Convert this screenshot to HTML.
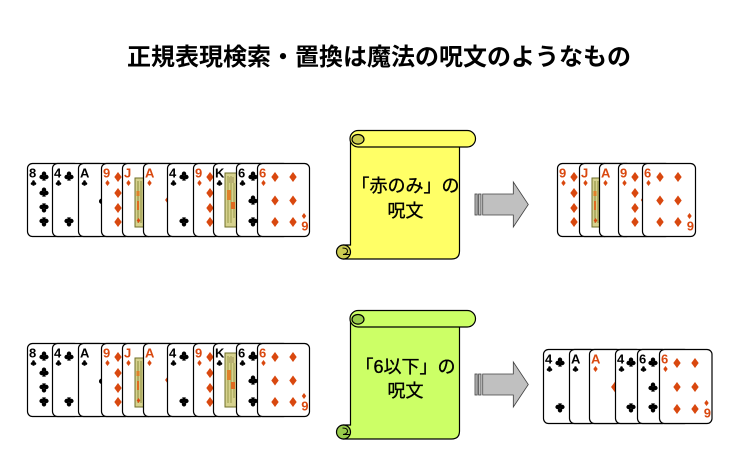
<!DOCTYPE html>
<html><head><meta charset="utf-8">
<style>
html,body{margin:0;padding:0;background:#fff;}
svg{display:block;}
.r{font-family:"Liberation Sans",sans-serif;font-weight:bold;font-size:13px;}
.t{font-family:"Liberation Sans","Noto Sans CJK JP",sans-serif;font-size:18px;fill:#000;stroke:#000;stroke-width:0.35px;}
.h{font-family:"Liberation Sans","Noto Sans CJK JP",sans-serif;font-size:24px;font-weight:bold;fill:#000;}
</style></head>
<body>
<svg width="750" height="466" viewBox="0 0 750 466" xmlns="http://www.w3.org/2000/svg">
<rect width="750" height="466" fill="#fff"/>
<text class="h" x="127" y="65">正規表現検索・置換は魔法の呪文のようなもの</text>

<!-- ============ LEFT ROW 1 ============ -->
<g transform="translate(0,163)">
 <g transform="translate(27,0)" fill="#000"><rect x=".5" y=".5" width="52" height="73" rx="5" fill="#fff" stroke="#000" stroke-width="1.2"/><text class="r" x="2" y="14.5">8</text>
  <path transform="translate(6.5,20) scale(.6)" d="M-2.2,-2.3a2.2,2.2 0 1 0 4.4,0a2.2,2.2 0 1 0 -4.4,0zM-4.6,1a2.2,2.2 0 1 0 4.4,0a2.2,2.2 0 1 0 -4.4,0zM0.2,1a2.2,2.2 0 1 0 4.4,0a2.2,2.2 0 1 0 -4.4,0zM-0.6,0L-1.8,4.6H1.8L0.6,0z"/>
  <path transform="translate(17,13)" d="M-2.2,-2.3a2.2,2.2 0 1 0 4.4,0a2.2,2.2 0 1 0 -4.4,0zM-4.6,1a2.2,2.2 0 1 0 4.4,0a2.2,2.2 0 1 0 -4.4,0zM0.2,1a2.2,2.2 0 1 0 4.4,0a2.2,2.2 0 1 0 -4.4,0zM-0.6,0L-1.8,4.6H1.8L0.6,0z"/>
  <path transform="translate(17,29)" d="M-2.2,-2.3a2.2,2.2 0 1 0 4.4,0a2.2,2.2 0 1 0 -4.4,0zM-4.6,1a2.2,2.2 0 1 0 4.4,0a2.2,2.2 0 1 0 -4.4,0zM0.2,1a2.2,2.2 0 1 0 4.4,0a2.2,2.2 0 1 0 -4.4,0zM-0.6,0L-1.8,4.6H1.8L0.6,0z"/>
  <path transform="translate(17,45) rotate(180)" d="M-2.2,-2.3a2.2,2.2 0 1 0 4.4,0a2.2,2.2 0 1 0 -4.4,0zM-4.6,1a2.2,2.2 0 1 0 4.4,0a2.2,2.2 0 1 0 -4.4,0zM0.2,1a2.2,2.2 0 1 0 4.4,0a2.2,2.2 0 1 0 -4.4,0zM-0.6,0L-1.8,4.6H1.8L0.6,0z"/>
  <path transform="translate(17,59) rotate(180)" d="M-2.2,-2.3a2.2,2.2 0 1 0 4.4,0a2.2,2.2 0 1 0 -4.4,0zM-4.6,1a2.2,2.2 0 1 0 4.4,0a2.2,2.2 0 1 0 -4.4,0zM0.2,1a2.2,2.2 0 1 0 4.4,0a2.2,2.2 0 1 0 -4.4,0zM-0.6,0L-1.8,4.6H1.8L0.6,0z"/>
 </g>
 <g transform="translate(52,0)" fill="#000"><rect x=".5" y=".5" width="52" height="73" rx="5" fill="#fff" stroke="#000" stroke-width="1.2"/><text class="r" x="2" y="14.5">4</text>
  <path transform="translate(6.5,20) scale(.6)" d="M-2.2,-2.3a2.2,2.2 0 1 0 4.4,0a2.2,2.2 0 1 0 -4.4,0zM-4.6,1a2.2,2.2 0 1 0 4.4,0a2.2,2.2 0 1 0 -4.4,0zM0.2,1a2.2,2.2 0 1 0 4.4,0a2.2,2.2 0 1 0 -4.4,0zM-0.6,0L-1.8,4.6H1.8L0.6,0z"/>
  <path transform="translate(17,13)" d="M-2.2,-2.3a2.2,2.2 0 1 0 4.4,0a2.2,2.2 0 1 0 -4.4,0zM-4.6,1a2.2,2.2 0 1 0 4.4,0a2.2,2.2 0 1 0 -4.4,0zM0.2,1a2.2,2.2 0 1 0 4.4,0a2.2,2.2 0 1 0 -4.4,0zM-0.6,0L-1.8,4.6H1.8L0.6,0z"/>
  <path transform="translate(17,59) rotate(180)" d="M-2.2,-2.3a2.2,2.2 0 1 0 4.4,0a2.2,2.2 0 1 0 -4.4,0zM-4.6,1a2.2,2.2 0 1 0 4.4,0a2.2,2.2 0 1 0 -4.4,0zM0.2,1a2.2,2.2 0 1 0 4.4,0a2.2,2.2 0 1 0 -4.4,0zM-0.6,0L-1.8,4.6H1.8L0.6,0z"/>
 </g>
 <g transform="translate(78,0)" fill="#000"><rect x=".5" y=".5" width="52" height="73" rx="5" fill="#fff" stroke="#000" stroke-width="1.2"/><text class="r" x="2" y="14.5">A</text>
  <path transform="translate(6.5,20) scale(.6)" d="M-2.2,-2.3a2.2,2.2 0 1 0 4.4,0a2.2,2.2 0 1 0 -4.4,0zM-4.6,1a2.2,2.2 0 1 0 4.4,0a2.2,2.2 0 1 0 -4.4,0zM0.2,1a2.2,2.2 0 1 0 4.4,0a2.2,2.2 0 1 0 -4.4,0zM-0.6,0L-1.8,4.6H1.8L0.6,0z"/>
  <path transform="translate(26.5,37) scale(1.2)" d="M-2.2,-2.3a2.2,2.2 0 1 0 4.4,0a2.2,2.2 0 1 0 -4.4,0zM-4.6,1a2.2,2.2 0 1 0 4.4,0a2.2,2.2 0 1 0 -4.4,0zM0.2,1a2.2,2.2 0 1 0 4.4,0a2.2,2.2 0 1 0 -4.4,0zM-0.6,0L-1.8,4.6H1.8L0.6,0z"/>
 </g>
 <g transform="translate(101,0)" fill="#d9480f"><rect x=".5" y=".5" width="52" height="73" rx="5" fill="#fff" stroke="#000" stroke-width="1.2"/><text class="r" x="2" y="14.5">9</text>
  <path transform="translate(6.5,20) scale(.6)" d="M0,-5L3.7,0L0,5L-3.7,0z"/>
  <path transform="translate(17,14)" d="M0,-5L3.7,0L0,5L-3.7,0z"/><path transform="translate(17,30)" d="M0,-5L3.7,0L0,5L-3.7,0z"/><path transform="translate(17,45)" d="M0,-5L3.7,0L0,5L-3.7,0z"/><path transform="translate(17,59)" d="M0,-5L3.7,0L0,5L-3.7,0z"/><path transform="translate(26.5,37)" d="M0,-5L3.7,0L0,5L-3.7,0z"/>
 </g>
 <g transform="translate(122,0)" fill="#d9480f"><rect x=".5" y=".5" width="52" height="73" rx="5" fill="#fff" stroke="#000" stroke-width="1.2"/><text class="r" x="2" y="14.5">J</text>
  <path transform="translate(6.5,20) scale(.6)" d="M0,-5L3.7,0L0,5L-3.7,0z"/>
  <rect x="13" y="15" width="28" height="49" fill="#d6d28e" stroke="#6f6f2a" stroke-width="1"/>
  <path d="M16,18V60M19,18V60" stroke="#8b8b3a" stroke-width="1" fill="none"/>
  <rect x="14.5" y="28" width="3" height="5" fill="#e0802a"/><rect x="15" y="38" width="2" height="9" fill="#e06a20"/>
  <path transform="translate(16.5,57.5) scale(.5)" d="M0,-5L3.7,0L0,5L-3.7,0z"/>
 </g>
 <g transform="translate(143,0)" fill="#d9480f"><rect x=".5" y=".5" width="52" height="73" rx="5" fill="#fff" stroke="#000" stroke-width="1.2"/><text class="r" x="2" y="14.5">A</text>
  <path transform="translate(6.5,20) scale(.6)" d="M0,-5L3.7,0L0,5L-3.7,0z"/>
  <path transform="translate(26.5,37) scale(1.2)" d="M0,-5L3.7,0L0,5L-3.7,0z"/>
 </g>
 <g transform="translate(167,0)" fill="#000"><rect x=".5" y=".5" width="52" height="73" rx="5" fill="#fff" stroke="#000" stroke-width="1.2"/><text class="r" x="2" y="14.5">4</text>
  <path transform="translate(6.5,20) scale(.6)" d="M-2.2,-2.3a2.2,2.2 0 1 0 4.4,0a2.2,2.2 0 1 0 -4.4,0zM-4.6,1a2.2,2.2 0 1 0 4.4,0a2.2,2.2 0 1 0 -4.4,0zM0.2,1a2.2,2.2 0 1 0 4.4,0a2.2,2.2 0 1 0 -4.4,0zM-0.6,0L-1.8,4.6H1.8L0.6,0z"/>
  <path transform="translate(17,13)" d="M-2.2,-2.3a2.2,2.2 0 1 0 4.4,0a2.2,2.2 0 1 0 -4.4,0zM-4.6,1a2.2,2.2 0 1 0 4.4,0a2.2,2.2 0 1 0 -4.4,0zM0.2,1a2.2,2.2 0 1 0 4.4,0a2.2,2.2 0 1 0 -4.4,0zM-0.6,0L-1.8,4.6H1.8L0.6,0z"/>
  <path transform="translate(17,59) rotate(180)" d="M-2.2,-2.3a2.2,2.2 0 1 0 4.4,0a2.2,2.2 0 1 0 -4.4,0zM-4.6,1a2.2,2.2 0 1 0 4.4,0a2.2,2.2 0 1 0 -4.4,0zM0.2,1a2.2,2.2 0 1 0 4.4,0a2.2,2.2 0 1 0 -4.4,0zM-0.6,0L-1.8,4.6H1.8L0.6,0z"/>
 </g>
 <g transform="translate(193,0)" fill="#d9480f"><rect x=".5" y=".5" width="52" height="73" rx="5" fill="#fff" stroke="#000" stroke-width="1.2"/><text class="r" x="2" y="14.5">9</text>
  <path transform="translate(6.5,20) scale(.6)" d="M0,-5L3.7,0L0,5L-3.7,0z"/>
  <path transform="translate(17,14)" d="M0,-5L3.7,0L0,5L-3.7,0z"/><path transform="translate(17,30)" d="M0,-5L3.7,0L0,5L-3.7,0z"/><path transform="translate(17,45)" d="M0,-5L3.7,0L0,5L-3.7,0z"/><path transform="translate(17,59)" d="M0,-5L3.7,0L0,5L-3.7,0z"/><path transform="translate(26.5,37)" d="M0,-5L3.7,0L0,5L-3.7,0z"/>
 </g>
 <g transform="translate(213,0)" fill="#000"><rect x=".5" y=".5" width="52" height="73" rx="5" fill="#fff" stroke="#000" stroke-width="1.2"/><text class="r" x="2" y="14.5">K</text>
  <path transform="translate(6.5,20) scale(.6)" d="M-2.2,-2.3a2.2,2.2 0 1 0 4.4,0a2.2,2.2 0 1 0 -4.4,0zM-4.6,1a2.2,2.2 0 1 0 4.4,0a2.2,2.2 0 1 0 -4.4,0zM0.2,1a2.2,2.2 0 1 0 4.4,0a2.2,2.2 0 1 0 -4.4,0zM-0.6,0L-1.8,4.6H1.8L0.6,0z"/>
  <rect x="12" y="10" width="29" height="54" fill="#d6d28e" stroke="#6f6f2a" stroke-width="1"/>
  <path d="M15,13V60M18,13V60M21,20V55" stroke="#9a9a4a" stroke-width="1" fill="none"/>
  <rect x="14" y="27" width="4" height="10" fill="#e0802a"/><rect x="18" y="39" width="4" height="7" fill="#e06a20"/><rect x="16" y="14" width="5" height="6" fill="#b8b070"/>
 </g>
 <g transform="translate(236,0)" fill="#000"><rect x=".5" y=".5" width="52" height="73" rx="5" fill="#fff" stroke="#000" stroke-width="1.2"/><text class="r" x="2" y="14.5">6</text>
  <path transform="translate(6.5,20) scale(.6)" d="M-2.2,-2.3a2.2,2.2 0 1 0 4.4,0a2.2,2.2 0 1 0 -4.4,0zM-4.6,1a2.2,2.2 0 1 0 4.4,0a2.2,2.2 0 1 0 -4.4,0zM0.2,1a2.2,2.2 0 1 0 4.4,0a2.2,2.2 0 1 0 -4.4,0zM-0.6,0L-1.8,4.6H1.8L0.6,0z"/>
  <path transform="translate(17,13)" d="M-2.2,-2.3a2.2,2.2 0 1 0 4.4,0a2.2,2.2 0 1 0 -4.4,0zM-4.6,1a2.2,2.2 0 1 0 4.4,0a2.2,2.2 0 1 0 -4.4,0zM0.2,1a2.2,2.2 0 1 0 4.4,0a2.2,2.2 0 1 0 -4.4,0zM-0.6,0L-1.8,4.6H1.8L0.6,0z"/>
  <path transform="translate(17,37)" d="M-2.2,-2.3a2.2,2.2 0 1 0 4.4,0a2.2,2.2 0 1 0 -4.4,0zM-4.6,1a2.2,2.2 0 1 0 4.4,0a2.2,2.2 0 1 0 -4.4,0zM0.2,1a2.2,2.2 0 1 0 4.4,0a2.2,2.2 0 1 0 -4.4,0zM-0.6,0L-1.8,4.6H1.8L0.6,0z"/>
  <path transform="translate(17,59) rotate(180)" d="M-2.2,-2.3a2.2,2.2 0 1 0 4.4,0a2.2,2.2 0 1 0 -4.4,0zM-4.6,1a2.2,2.2 0 1 0 4.4,0a2.2,2.2 0 1 0 -4.4,0zM0.2,1a2.2,2.2 0 1 0 4.4,0a2.2,2.2 0 1 0 -4.4,0zM-0.6,0L-1.8,4.6H1.8L0.6,0z"/>
 </g>
 <g transform="translate(257,0)" fill="#d9480f"><rect x=".5" y=".5" width="52" height="73" rx="5" fill="#fff" stroke="#000" stroke-width="1.2"/><text class="r" x="2" y="14.5">6</text>
  <path transform="translate(6.5,20) scale(.6)" d="M0,-5L3.7,0L0,5L-3.7,0z"/>
  <path transform="translate(18,14)" d="M0,-5L3.7,0L0,5L-3.7,0z"/><path transform="translate(36,14)" d="M0,-5L3.7,0L0,5L-3.7,0z"/>
  <path transform="translate(18,37.5)" d="M0,-5L3.7,0L0,5L-3.7,0z"/><path transform="translate(36,37.5)" d="M0,-5L3.7,0L0,5L-3.7,0z"/>
  <path transform="translate(18,59)" d="M0,-5L3.7,0L0,5L-3.7,0z"/><path transform="translate(36,59)" d="M0,-5L3.7,0L0,5L-3.7,0z"/>
  <path transform="translate(47,53) scale(.6)" d="M0,-5L3.7,0L0,5L-3.7,0z"/>
  <text class="r" transform="translate(51.5,58.5) rotate(180)">6</text>
 </g>
</g>

<!-- ============ LEFT ROW 2 ============ -->
<g transform="translate(0,343)">
 <g transform="translate(27,0)" fill="#000"><rect x=".5" y=".5" width="52" height="73" rx="5" fill="#fff" stroke="#000" stroke-width="1.2"/><text class="r" x="2" y="14.5">8</text>
  <path transform="translate(6.5,20) scale(.6)" d="M-2.2,-2.3a2.2,2.2 0 1 0 4.4,0a2.2,2.2 0 1 0 -4.4,0zM-4.6,1a2.2,2.2 0 1 0 4.4,0a2.2,2.2 0 1 0 -4.4,0zM0.2,1a2.2,2.2 0 1 0 4.4,0a2.2,2.2 0 1 0 -4.4,0zM-0.6,0L-1.8,4.6H1.8L0.6,0z"/>
  <path transform="translate(17,13)" d="M-2.2,-2.3a2.2,2.2 0 1 0 4.4,0a2.2,2.2 0 1 0 -4.4,0zM-4.6,1a2.2,2.2 0 1 0 4.4,0a2.2,2.2 0 1 0 -4.4,0zM0.2,1a2.2,2.2 0 1 0 4.4,0a2.2,2.2 0 1 0 -4.4,0zM-0.6,0L-1.8,4.6H1.8L0.6,0z"/>
  <path transform="translate(17,29)" d="M-2.2,-2.3a2.2,2.2 0 1 0 4.4,0a2.2,2.2 0 1 0 -4.4,0zM-4.6,1a2.2,2.2 0 1 0 4.4,0a2.2,2.2 0 1 0 -4.4,0zM0.2,1a2.2,2.2 0 1 0 4.4,0a2.2,2.2 0 1 0 -4.4,0zM-0.6,0L-1.8,4.6H1.8L0.6,0z"/>
  <path transform="translate(17,45) rotate(180)" d="M-2.2,-2.3a2.2,2.2 0 1 0 4.4,0a2.2,2.2 0 1 0 -4.4,0zM-4.6,1a2.2,2.2 0 1 0 4.4,0a2.2,2.2 0 1 0 -4.4,0zM0.2,1a2.2,2.2 0 1 0 4.4,0a2.2,2.2 0 1 0 -4.4,0zM-0.6,0L-1.8,4.6H1.8L0.6,0z"/>
  <path transform="translate(17,59) rotate(180)" d="M-2.2,-2.3a2.2,2.2 0 1 0 4.4,0a2.2,2.2 0 1 0 -4.4,0zM-4.6,1a2.2,2.2 0 1 0 4.4,0a2.2,2.2 0 1 0 -4.4,0zM0.2,1a2.2,2.2 0 1 0 4.4,0a2.2,2.2 0 1 0 -4.4,0zM-0.6,0L-1.8,4.6H1.8L0.6,0z"/>
 </g>
 <g transform="translate(52,0)" fill="#000"><rect x=".5" y=".5" width="52" height="73" rx="5" fill="#fff" stroke="#000" stroke-width="1.2"/><text class="r" x="2" y="14.5">4</text>
  <path transform="translate(6.5,20) scale(.6)" d="M-2.2,-2.3a2.2,2.2 0 1 0 4.4,0a2.2,2.2 0 1 0 -4.4,0zM-4.6,1a2.2,2.2 0 1 0 4.4,0a2.2,2.2 0 1 0 -4.4,0zM0.2,1a2.2,2.2 0 1 0 4.4,0a2.2,2.2 0 1 0 -4.4,0zM-0.6,0L-1.8,4.6H1.8L0.6,0z"/>
  <path transform="translate(17,13)" d="M-2.2,-2.3a2.2,2.2 0 1 0 4.4,0a2.2,2.2 0 1 0 -4.4,0zM-4.6,1a2.2,2.2 0 1 0 4.4,0a2.2,2.2 0 1 0 -4.4,0zM0.2,1a2.2,2.2 0 1 0 4.4,0a2.2,2.2 0 1 0 -4.4,0zM-0.6,0L-1.8,4.6H1.8L0.6,0z"/>
  <path transform="translate(17,59) rotate(180)" d="M-2.2,-2.3a2.2,2.2 0 1 0 4.4,0a2.2,2.2 0 1 0 -4.4,0zM-4.6,1a2.2,2.2 0 1 0 4.4,0a2.2,2.2 0 1 0 -4.4,0zM0.2,1a2.2,2.2 0 1 0 4.4,0a2.2,2.2 0 1 0 -4.4,0zM-0.6,0L-1.8,4.6H1.8L0.6,0z"/>
 </g>
 <g transform="translate(78,0)" fill="#000"><rect x=".5" y=".5" width="52" height="73" rx="5" fill="#fff" stroke="#000" stroke-width="1.2"/><text class="r" x="2" y="14.5">A</text>
  <path transform="translate(6.5,20) scale(.6)" d="M-2.2,-2.3a2.2,2.2 0 1 0 4.4,0a2.2,2.2 0 1 0 -4.4,0zM-4.6,1a2.2,2.2 0 1 0 4.4,0a2.2,2.2 0 1 0 -4.4,0zM0.2,1a2.2,2.2 0 1 0 4.4,0a2.2,2.2 0 1 0 -4.4,0zM-0.6,0L-1.8,4.6H1.8L0.6,0z"/>
  <path transform="translate(26.5,37) scale(1.2)" d="M-2.2,-2.3a2.2,2.2 0 1 0 4.4,0a2.2,2.2 0 1 0 -4.4,0zM-4.6,1a2.2,2.2 0 1 0 4.4,0a2.2,2.2 0 1 0 -4.4,0zM0.2,1a2.2,2.2 0 1 0 4.4,0a2.2,2.2 0 1 0 -4.4,0zM-0.6,0L-1.8,4.6H1.8L0.6,0z"/>
 </g>
 <g transform="translate(101,0)" fill="#d9480f"><rect x=".5" y=".5" width="52" height="73" rx="5" fill="#fff" stroke="#000" stroke-width="1.2"/><text class="r" x="2" y="14.5">9</text>
  <path transform="translate(6.5,20) scale(.6)" d="M0,-5L3.7,0L0,5L-3.7,0z"/>
  <path transform="translate(17,14)" d="M0,-5L3.7,0L0,5L-3.7,0z"/><path transform="translate(17,30)" d="M0,-5L3.7,0L0,5L-3.7,0z"/><path transform="translate(17,45)" d="M0,-5L3.7,0L0,5L-3.7,0z"/><path transform="translate(17,59)" d="M0,-5L3.7,0L0,5L-3.7,0z"/><path transform="translate(26.5,37)" d="M0,-5L3.7,0L0,5L-3.7,0z"/>
 </g>
 <g transform="translate(122,0)" fill="#d9480f"><rect x=".5" y=".5" width="52" height="73" rx="5" fill="#fff" stroke="#000" stroke-width="1.2"/><text class="r" x="2" y="14.5">J</text>
  <path transform="translate(6.5,20) scale(.6)" d="M0,-5L3.7,0L0,5L-3.7,0z"/>
  <rect x="13" y="15" width="28" height="49" fill="#d6d28e" stroke="#6f6f2a" stroke-width="1"/>
  <path d="M16,18V60M19,18V60" stroke="#8b8b3a" stroke-width="1" fill="none"/>
  <rect x="14.5" y="28" width="3" height="5" fill="#e0802a"/><rect x="15" y="38" width="2" height="9" fill="#e06a20"/>
  <path transform="translate(16.5,57.5) scale(.5)" d="M0,-5L3.7,0L0,5L-3.7,0z"/>
 </g>
 <g transform="translate(143,0)" fill="#d9480f"><rect x=".5" y=".5" width="52" height="73" rx="5" fill="#fff" stroke="#000" stroke-width="1.2"/><text class="r" x="2" y="14.5">A</text>
  <path transform="translate(6.5,20) scale(.6)" d="M0,-5L3.7,0L0,5L-3.7,0z"/>
  <path transform="translate(26.5,37) scale(1.2)" d="M0,-5L3.7,0L0,5L-3.7,0z"/>
 </g>
 <g transform="translate(167,0)" fill="#000"><rect x=".5" y=".5" width="52" height="73" rx="5" fill="#fff" stroke="#000" stroke-width="1.2"/><text class="r" x="2" y="14.5">4</text>
  <path transform="translate(6.5,20) scale(.6)" d="M-2.2,-2.3a2.2,2.2 0 1 0 4.4,0a2.2,2.2 0 1 0 -4.4,0zM-4.6,1a2.2,2.2 0 1 0 4.4,0a2.2,2.2 0 1 0 -4.4,0zM0.2,1a2.2,2.2 0 1 0 4.4,0a2.2,2.2 0 1 0 -4.4,0zM-0.6,0L-1.8,4.6H1.8L0.6,0z"/>
  <path transform="translate(17,13)" d="M-2.2,-2.3a2.2,2.2 0 1 0 4.4,0a2.2,2.2 0 1 0 -4.4,0zM-4.6,1a2.2,2.2 0 1 0 4.4,0a2.2,2.2 0 1 0 -4.4,0zM0.2,1a2.2,2.2 0 1 0 4.4,0a2.2,2.2 0 1 0 -4.4,0zM-0.6,0L-1.8,4.6H1.8L0.6,0z"/>
  <path transform="translate(17,59) rotate(180)" d="M-2.2,-2.3a2.2,2.2 0 1 0 4.4,0a2.2,2.2 0 1 0 -4.4,0zM-4.6,1a2.2,2.2 0 1 0 4.4,0a2.2,2.2 0 1 0 -4.4,0zM0.2,1a2.2,2.2 0 1 0 4.4,0a2.2,2.2 0 1 0 -4.4,0zM-0.6,0L-1.8,4.6H1.8L0.6,0z"/>
 </g>
 <g transform="translate(193,0)" fill="#d9480f"><rect x=".5" y=".5" width="52" height="73" rx="5" fill="#fff" stroke="#000" stroke-width="1.2"/><text class="r" x="2" y="14.5">9</text>
  <path transform="translate(6.5,20) scale(.6)" d="M0,-5L3.7,0L0,5L-3.7,0z"/>
  <path transform="translate(17,14)" d="M0,-5L3.7,0L0,5L-3.7,0z"/><path transform="translate(17,30)" d="M0,-5L3.7,0L0,5L-3.7,0z"/><path transform="translate(17,45)" d="M0,-5L3.7,0L0,5L-3.7,0z"/><path transform="translate(17,59)" d="M0,-5L3.7,0L0,5L-3.7,0z"/><path transform="translate(26.5,37)" d="M0,-5L3.7,0L0,5L-3.7,0z"/>
 </g>
 <g transform="translate(213,0)" fill="#000"><rect x=".5" y=".5" width="52" height="73" rx="5" fill="#fff" stroke="#000" stroke-width="1.2"/><text class="r" x="2" y="14.5">K</text>
  <path transform="translate(6.5,20) scale(.6)" d="M-2.2,-2.3a2.2,2.2 0 1 0 4.4,0a2.2,2.2 0 1 0 -4.4,0zM-4.6,1a2.2,2.2 0 1 0 4.4,0a2.2,2.2 0 1 0 -4.4,0zM0.2,1a2.2,2.2 0 1 0 4.4,0a2.2,2.2 0 1 0 -4.4,0zM-0.6,0L-1.8,4.6H1.8L0.6,0z"/>
  <rect x="12" y="10" width="29" height="54" fill="#d6d28e" stroke="#6f6f2a" stroke-width="1"/>
  <path d="M15,13V60M18,13V60M21,20V55" stroke="#9a9a4a" stroke-width="1" fill="none"/>
  <rect x="14" y="27" width="4" height="10" fill="#e0802a"/><rect x="18" y="39" width="4" height="7" fill="#e06a20"/><rect x="16" y="14" width="5" height="6" fill="#b8b070"/>
 </g>
 <g transform="translate(236,0)" fill="#000"><rect x=".5" y=".5" width="52" height="73" rx="5" fill="#fff" stroke="#000" stroke-width="1.2"/><text class="r" x="2" y="14.5">6</text>
  <path transform="translate(6.5,20) scale(.6)" d="M-2.2,-2.3a2.2,2.2 0 1 0 4.4,0a2.2,2.2 0 1 0 -4.4,0zM-4.6,1a2.2,2.2 0 1 0 4.4,0a2.2,2.2 0 1 0 -4.4,0zM0.2,1a2.2,2.2 0 1 0 4.4,0a2.2,2.2 0 1 0 -4.4,0zM-0.6,0L-1.8,4.6H1.8L0.6,0z"/>
  <path transform="translate(17,13)" d="M-2.2,-2.3a2.2,2.2 0 1 0 4.4,0a2.2,2.2 0 1 0 -4.4,0zM-4.6,1a2.2,2.2 0 1 0 4.4,0a2.2,2.2 0 1 0 -4.4,0zM0.2,1a2.2,2.2 0 1 0 4.4,0a2.2,2.2 0 1 0 -4.4,0zM-0.6,0L-1.8,4.6H1.8L0.6,0z"/>
  <path transform="translate(17,37)" d="M-2.2,-2.3a2.2,2.2 0 1 0 4.4,0a2.2,2.2 0 1 0 -4.4,0zM-4.6,1a2.2,2.2 0 1 0 4.4,0a2.2,2.2 0 1 0 -4.4,0zM0.2,1a2.2,2.2 0 1 0 4.4,0a2.2,2.2 0 1 0 -4.4,0zM-0.6,0L-1.8,4.6H1.8L0.6,0z"/>
  <path transform="translate(17,59) rotate(180)" d="M-2.2,-2.3a2.2,2.2 0 1 0 4.4,0a2.2,2.2 0 1 0 -4.4,0zM-4.6,1a2.2,2.2 0 1 0 4.4,0a2.2,2.2 0 1 0 -4.4,0zM0.2,1a2.2,2.2 0 1 0 4.4,0a2.2,2.2 0 1 0 -4.4,0zM-0.6,0L-1.8,4.6H1.8L0.6,0z"/>
 </g>
 <g transform="translate(257,0)" fill="#d9480f"><rect x=".5" y=".5" width="52" height="73" rx="5" fill="#fff" stroke="#000" stroke-width="1.2"/><text class="r" x="2" y="14.5">6</text>
  <path transform="translate(6.5,20) scale(.6)" d="M0,-5L3.7,0L0,5L-3.7,0z"/>
  <path transform="translate(18,14)" d="M0,-5L3.7,0L0,5L-3.7,0z"/><path transform="translate(36,14)" d="M0,-5L3.7,0L0,5L-3.7,0z"/>
  <path transform="translate(18,37.5)" d="M0,-5L3.7,0L0,5L-3.7,0z"/><path transform="translate(36,37.5)" d="M0,-5L3.7,0L0,5L-3.7,0z"/>
  <path transform="translate(18,59)" d="M0,-5L3.7,0L0,5L-3.7,0z"/><path transform="translate(36,59)" d="M0,-5L3.7,0L0,5L-3.7,0z"/>
  <path transform="translate(47,53) scale(.6)" d="M0,-5L3.7,0L0,5L-3.7,0z"/>
  <text class="r" transform="translate(51.5,58.5) rotate(180)">6</text>
 </g>
</g>

<!-- ============ SCROLL 1 (yellow) ============ -->
<g stroke="#000" stroke-width="1.2">
 <path d="M350.5,139 V245 H343.5 V259 H451.5 Q459.5,259 459.5,251 V139 Z" fill="#ffff66"/>
 <circle cx="343.5" cy="252" r="7" fill="#cccc52"/>
 <path d="M342.5,248 Q347.5,248 347.5,251 Q347.5,254 343,254.5 H350.5" fill="none" stroke-width="1"/>
 <rect x="350" y="130.5" width="125.5" height="16.5" rx="8.25" fill="#ffff66"/>
 <ellipse cx="358" cy="139.3" rx="6" ry="4.8" fill="#cccc52"/>
</g>
<text class="t" x="405.5" y="186" text-anchor="middle" dominant-baseline="central">「赤のみ」の</text>
<text class="t" x="405.5" y="211" text-anchor="middle" dominant-baseline="central">呪文</text>

<!-- ============ SCROLL 2 (green) ============ -->
<g stroke="#000" stroke-width="1.2">
 <path d="M350.5,319 V425 H343.5 V439 H451.5 Q459.5,439 459.5,431 V319 Z" fill="#ccff66"/>
 <circle cx="343.5" cy="432" r="7" fill="#99cc4c"/>
 <path d="M342.5,428 Q347.5,428 347.5,431 Q347.5,434 343,434.5 H350.5" fill="none" stroke-width="1"/>
 <rect x="350" y="310.5" width="125.5" height="16.5" rx="8.25" fill="#ccff66"/>
 <ellipse cx="358" cy="319.3" rx="6" ry="4.8" fill="#99cc4c"/>
</g>
<text class="t" x="405.5" y="367" text-anchor="middle" dominant-baseline="central">「6以下」の</text>
<text class="t" x="405.5" y="391" text-anchor="middle" dominant-baseline="central">呪文</text>

<!-- ============ ARROWS ============ -->
<g fill="#c0c0c0" stroke="#404040" stroke-width="0.8">
 <rect x="475" y="194" width="2.2" height="21"/>
 <rect x="478.6" y="194" width="2.4" height="21"/>
 <path d="M482.7,194H513.3V182L528.3,204.5L513.3,227V215H482.7Z"/>
 <rect x="475" y="374" width="2.2" height="21"/>
 <rect x="478.6" y="374" width="2.4" height="21"/>
 <path d="M482.7,374H513.3V362L528.3,384.5L513.3,407V395H482.7Z"/>
</g>

<!-- ============ RIGHT ROW 1 ============ -->
<g transform="translate(0,163)">
 <g transform="translate(557,0)" fill="#d9480f"><rect x=".5" y=".5" width="52" height="73" rx="5" fill="#fff" stroke="#000" stroke-width="1.2"/><text class="r" x="2" y="14.5">9</text>
  <path transform="translate(6.5,20) scale(.6)" d="M0,-5L3.7,0L0,5L-3.7,0z"/>
  <path transform="translate(17,14)" d="M0,-5L3.7,0L0,5L-3.7,0z"/><path transform="translate(17,30)" d="M0,-5L3.7,0L0,5L-3.7,0z"/><path transform="translate(17,45)" d="M0,-5L3.7,0L0,5L-3.7,0z"/><path transform="translate(17,59)" d="M0,-5L3.7,0L0,5L-3.7,0z"/><path transform="translate(26.5,37)" d="M0,-5L3.7,0L0,5L-3.7,0z"/>
 </g>
 <g transform="translate(579,0)" fill="#d9480f"><rect x=".5" y=".5" width="52" height="73" rx="5" fill="#fff" stroke="#000" stroke-width="1.2"/><text class="r" x="2" y="14.5">J</text>
  <path transform="translate(6.5,20) scale(.6)" d="M0,-5L3.7,0L0,5L-3.7,0z"/>
  <rect x="13" y="15" width="28" height="49" fill="#d6d28e" stroke="#6f6f2a" stroke-width="1"/>
  <path d="M16,18V60M19,18V60" stroke="#8b8b3a" stroke-width="1" fill="none"/>
  <rect x="14.5" y="28" width="3" height="5" fill="#e0802a"/><rect x="15" y="38" width="2" height="9" fill="#e06a20"/>
  <path transform="translate(16.5,57.5) scale(.5)" d="M0,-5L3.7,0L0,5L-3.7,0z"/>
 </g>
 <g transform="translate(599,0)" fill="#d9480f"><rect x=".5" y=".5" width="52" height="73" rx="5" fill="#fff" stroke="#000" stroke-width="1.2"/><text class="r" x="2" y="14.5">A</text>
  <path transform="translate(6.5,20) scale(.6)" d="M0,-5L3.7,0L0,5L-3.7,0z"/>
  <path transform="translate(26.5,37) scale(1.2)" d="M0,-5L3.7,0L0,5L-3.7,0z"/>
 </g>
 <g transform="translate(618,0)" fill="#d9480f"><rect x=".5" y=".5" width="52" height="73" rx="5" fill="#fff" stroke="#000" stroke-width="1.2"/><text class="r" x="2" y="14.5">9</text>
  <path transform="translate(6.5,20) scale(.6)" d="M0,-5L3.7,0L0,5L-3.7,0z"/>
  <path transform="translate(17,14)" d="M0,-5L3.7,0L0,5L-3.7,0z"/><path transform="translate(17,30)" d="M0,-5L3.7,0L0,5L-3.7,0z"/><path transform="translate(17,45)" d="M0,-5L3.7,0L0,5L-3.7,0z"/><path transform="translate(17,59)" d="M0,-5L3.7,0L0,5L-3.7,0z"/><path transform="translate(26.5,37)" d="M0,-5L3.7,0L0,5L-3.7,0z"/>
 </g>
 <g transform="translate(642,0)" fill="#d9480f"><rect x=".5" y=".5" width="53" height="73" rx="5" fill="#fff" stroke="#000" stroke-width="1.2"/><text class="r" x="2" y="14.5">6</text>
  <path transform="translate(6.5,20) scale(.6)" d="M0,-5L3.7,0L0,5L-3.7,0z"/>
  <path transform="translate(18,14)" d="M0,-5L3.7,0L0,5L-3.7,0z"/><path transform="translate(36,14)" d="M0,-5L3.7,0L0,5L-3.7,0z"/>
  <path transform="translate(18,37.5)" d="M0,-5L3.7,0L0,5L-3.7,0z"/><path transform="translate(36,37.5)" d="M0,-5L3.7,0L0,5L-3.7,0z"/>
  <path transform="translate(18,59)" d="M0,-5L3.7,0L0,5L-3.7,0z"/><path transform="translate(36,59)" d="M0,-5L3.7,0L0,5L-3.7,0z"/>
  <path transform="translate(47.5,53) scale(.6)" d="M0,-5L3.7,0L0,5L-3.7,0z"/>
  <text class="r" transform="translate(52,58.5) rotate(180)">6</text>
 </g>
</g>

<!-- ============ RIGHT ROW 2 ============ -->
<g transform="translate(0,349)">
 <g transform="translate(543,0)" fill="#000"><rect x=".5" y=".5" width="52" height="74" rx="5" fill="#fff" stroke="#000" stroke-width="1.2"/><text class="r" x="2" y="14.5">4</text>
  <path transform="translate(6.5,20) scale(.6)" d="M-2.2,-2.3a2.2,2.2 0 1 0 4.4,0a2.2,2.2 0 1 0 -4.4,0zM-4.6,1a2.2,2.2 0 1 0 4.4,0a2.2,2.2 0 1 0 -4.4,0zM0.2,1a2.2,2.2 0 1 0 4.4,0a2.2,2.2 0 1 0 -4.4,0zM-0.6,0L-1.8,4.6H1.8L0.6,0z"/>
  <path transform="translate(17,13)" d="M-2.2,-2.3a2.2,2.2 0 1 0 4.4,0a2.2,2.2 0 1 0 -4.4,0zM-4.6,1a2.2,2.2 0 1 0 4.4,0a2.2,2.2 0 1 0 -4.4,0zM0.2,1a2.2,2.2 0 1 0 4.4,0a2.2,2.2 0 1 0 -4.4,0zM-0.6,0L-1.8,4.6H1.8L0.6,0z"/>
  <path transform="translate(17,59) rotate(180)" d="M-2.2,-2.3a2.2,2.2 0 1 0 4.4,0a2.2,2.2 0 1 0 -4.4,0zM-4.6,1a2.2,2.2 0 1 0 4.4,0a2.2,2.2 0 1 0 -4.4,0zM0.2,1a2.2,2.2 0 1 0 4.4,0a2.2,2.2 0 1 0 -4.4,0zM-0.6,0L-1.8,4.6H1.8L0.6,0z"/>
 </g>
 <g transform="translate(569,0)" fill="#000"><rect x=".5" y=".5" width="52" height="74" rx="5" fill="#fff" stroke="#000" stroke-width="1.2"/><text class="r" x="2" y="14.5">A</text>
  <path transform="translate(6.5,20) scale(.6)" d="M-2.2,-2.3a2.2,2.2 0 1 0 4.4,0a2.2,2.2 0 1 0 -4.4,0zM-4.6,1a2.2,2.2 0 1 0 4.4,0a2.2,2.2 0 1 0 -4.4,0zM0.2,1a2.2,2.2 0 1 0 4.4,0a2.2,2.2 0 1 0 -4.4,0zM-0.6,0L-1.8,4.6H1.8L0.6,0z"/>
  <path transform="translate(26.5,37) scale(1.2)" d="M-2.2,-2.3a2.2,2.2 0 1 0 4.4,0a2.2,2.2 0 1 0 -4.4,0zM-4.6,1a2.2,2.2 0 1 0 4.4,0a2.2,2.2 0 1 0 -4.4,0zM0.2,1a2.2,2.2 0 1 0 4.4,0a2.2,2.2 0 1 0 -4.4,0zM-0.6,0L-1.8,4.6H1.8L0.6,0z"/>
 </g>
 <g transform="translate(589,0)" fill="#d9480f"><rect x=".5" y=".5" width="52" height="74" rx="5" fill="#fff" stroke="#000" stroke-width="1.2"/><text class="r" x="2" y="14.5">A</text>
  <path transform="translate(6.5,20) scale(.6)" d="M0,-5L3.7,0L0,5L-3.7,0z"/>
  <path transform="translate(26.5,38) scale(1.2)" d="M0,-5L3.7,0L0,5L-3.7,0z"/>
 </g>
 <g transform="translate(615,0)" fill="#000"><rect x=".5" y=".5" width="52" height="74" rx="5" fill="#fff" stroke="#000" stroke-width="1.2"/><text class="r" x="2" y="14.5">4</text>
  <path transform="translate(6.5,20) scale(.6)" d="M-2.2,-2.3a2.2,2.2 0 1 0 4.4,0a2.2,2.2 0 1 0 -4.4,0zM-4.6,1a2.2,2.2 0 1 0 4.4,0a2.2,2.2 0 1 0 -4.4,0zM0.2,1a2.2,2.2 0 1 0 4.4,0a2.2,2.2 0 1 0 -4.4,0zM-0.6,0L-1.8,4.6H1.8L0.6,0z"/>
  <path transform="translate(16,13)" d="M-2.2,-2.3a2.2,2.2 0 1 0 4.4,0a2.2,2.2 0 1 0 -4.4,0zM-4.6,1a2.2,2.2 0 1 0 4.4,0a2.2,2.2 0 1 0 -4.4,0zM0.2,1a2.2,2.2 0 1 0 4.4,0a2.2,2.2 0 1 0 -4.4,0zM-0.6,0L-1.8,4.6H1.8L0.6,0z"/>
  <path transform="translate(16,59) rotate(180)" d="M-2.2,-2.3a2.2,2.2 0 1 0 4.4,0a2.2,2.2 0 1 0 -4.4,0zM-4.6,1a2.2,2.2 0 1 0 4.4,0a2.2,2.2 0 1 0 -4.4,0zM0.2,1a2.2,2.2 0 1 0 4.4,0a2.2,2.2 0 1 0 -4.4,0zM-0.6,0L-1.8,4.6H1.8L0.6,0z"/>
 </g>
 <g transform="translate(637,0)" fill="#000"><rect x=".5" y=".5" width="52" height="74" rx="5" fill="#fff" stroke="#000" stroke-width="1.2"/><text class="r" x="2" y="14.5">6</text>
  <path transform="translate(6.5,20) scale(.6)" d="M-2.2,-2.3a2.2,2.2 0 1 0 4.4,0a2.2,2.2 0 1 0 -4.4,0zM-4.6,1a2.2,2.2 0 1 0 4.4,0a2.2,2.2 0 1 0 -4.4,0zM0.2,1a2.2,2.2 0 1 0 4.4,0a2.2,2.2 0 1 0 -4.4,0zM-0.6,0L-1.8,4.6H1.8L0.6,0z"/>
  <path transform="translate(16,13)" d="M-2.2,-2.3a2.2,2.2 0 1 0 4.4,0a2.2,2.2 0 1 0 -4.4,0zM-4.6,1a2.2,2.2 0 1 0 4.4,0a2.2,2.2 0 1 0 -4.4,0zM0.2,1a2.2,2.2 0 1 0 4.4,0a2.2,2.2 0 1 0 -4.4,0zM-0.6,0L-1.8,4.6H1.8L0.6,0z"/>
  <path transform="translate(16,38)" d="M-2.2,-2.3a2.2,2.2 0 1 0 4.4,0a2.2,2.2 0 1 0 -4.4,0zM-4.6,1a2.2,2.2 0 1 0 4.4,0a2.2,2.2 0 1 0 -4.4,0zM0.2,1a2.2,2.2 0 1 0 4.4,0a2.2,2.2 0 1 0 -4.4,0zM-0.6,0L-1.8,4.6H1.8L0.6,0z"/>
  <path transform="translate(16,59) rotate(180)" d="M-2.2,-2.3a2.2,2.2 0 1 0 4.4,0a2.2,2.2 0 1 0 -4.4,0zM-4.6,1a2.2,2.2 0 1 0 4.4,0a2.2,2.2 0 1 0 -4.4,0zM0.2,1a2.2,2.2 0 1 0 4.4,0a2.2,2.2 0 1 0 -4.4,0zM-0.6,0L-1.8,4.6H1.8L0.6,0z"/>
 </g>
 <g transform="translate(659,0)" fill="#d9480f"><rect x=".5" y=".5" width="52.5" height="74" rx="5" fill="#fff" stroke="#000" stroke-width="1.2"/><text class="r" x="2" y="14.5">6</text>
  <path transform="translate(6.5,20) scale(.6)" d="M0,-5L3.7,0L0,5L-3.7,0z"/>
  <path transform="translate(18,14)" d="M0,-5L3.7,0L0,5L-3.7,0z"/><path transform="translate(36,14)" d="M0,-5L3.7,0L0,5L-3.7,0z"/>
  <path transform="translate(18,38)" d="M0,-5L3.7,0L0,5L-3.7,0z"/><path transform="translate(36,38)" d="M0,-5L3.7,0L0,5L-3.7,0z"/>
  <path transform="translate(18,60)" d="M0,-5L3.7,0L0,5L-3.7,0z"/><path transform="translate(36,60)" d="M0,-5L3.7,0L0,5L-3.7,0z"/>
  <path transform="translate(47.5,54) scale(.6)" d="M0,-5L3.7,0L0,5L-3.7,0z"/>
  <text class="r" transform="translate(52,59.5) rotate(180)">6</text>
 </g>
</g>
</svg>
</body></html>
